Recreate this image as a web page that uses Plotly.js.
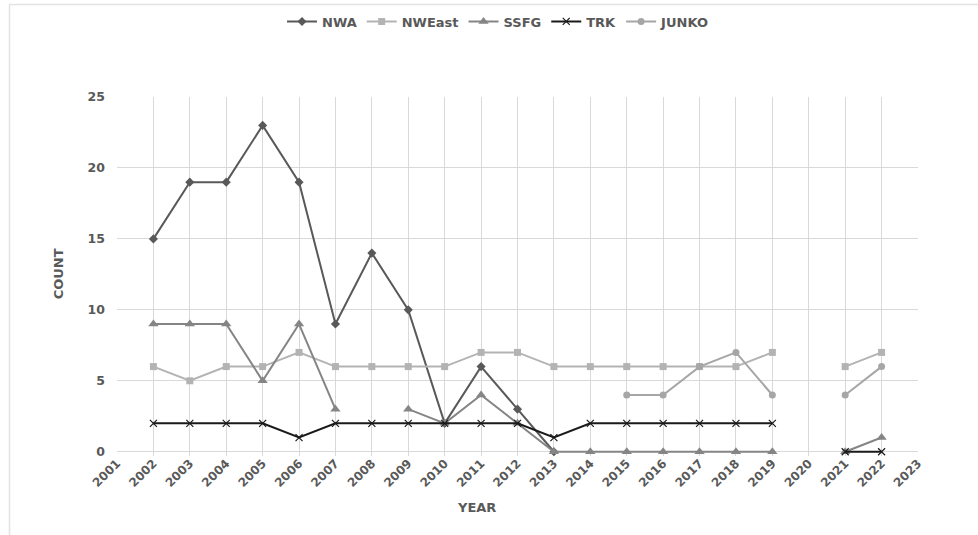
<!DOCTYPE html>
<html>
<head>
<meta charset="utf-8">
<script src="https://cdn.plot.ly/plotly-3.0.1.min.js"></script>
<style>html,body{margin:0;padding:0;background:#fff;}#chart{width:978px;height:535px;}</style>
</head>
<body>
<div id="chart"></div>
<script>
const years = [2002,2003,2004,2005,2006,2007,2008,2009,2010,2011,2012,2013,2014,2015,2016,2017,2018,2019,2020,2021,2022];
const tickYears = [2001,2002,2003,2004,2005,2006,2007,2008,2009,2010,2011,2012,2013,2014,2015,2016,2017,2018,2019,2020,2021,2022,2023];
const nwa    = [15,19,19,23,19,9,14,10,2,6,3,0,null,null,null,null,null,null,null,null,null];
const nweast = [6,5,6,6,7,6,6,6,6,7,7,6,6,6,6,6,6,7,null,6,7];
const ssfg   = [9,9,9,5,9,3,null,3,2,4,2,0,0,0,0,0,0,0,null,0,1];
const trk    = [2,2,2,2,1,2,2,2,2,2,2,1,2,2,2,2,2,2,null,0,0];
const junko  = [null,null,null,null,null,null,null,null,null,null,null,null,null,4,4,6,7,4,null,4,6];

const FONT = 'DejaVu Sans, Liberation Sans, Arial, sans-serif';

const mk = (name, y, color, symbol, size) => ({
  x: years, y: y, name: name, type: 'scatter', mode: 'lines+markers',
  connectgaps: false, cliponaxis: false,
  line: {color: color, width: 2},
  marker: {color: color, symbol: symbol, size: size, line: {color: color, width: symbol === 'x-thin' ? 1.2 : 0}}
});

const data = [
  mk('NWA', nwa, '#595959', 'diamond', 7),
  mk('NWEast', nweast, '#b3b3b3', 'square', 7),
  mk('SSFG', ssfg, '#858585', 'triangle-up', 9),
  mk('TRK', trk, '#1a1a1a', 'x-thin', 7),
  mk('JUNKO', junko, '#a6a6a6', 'circle', 7)
];

const tickFont = {family: FONT, size: 12, color: '#595959', weight: 'bold'};
const PAD = 0.3;              // value units below 0 so the zero line is not clipped
const UNIT = 355 / 25;        // px per count unit
const plotH = (25 + PAD) * UNIT;
const bottomM = 535 - 97 - plotH;
const fy = v => (v + PAD) / (25 + PAD);   // value -> paper fraction
const fpx = py => (535 - bottomM - py) / plotH; // pixel -> paper fraction

const layout = {
  width: 978, height: 535,
  margin: {l: 117, r: 60, t: 97, b: bottomM},
  paper_bgcolor: '#fff', plot_bgcolor: '#fff',
  showlegend: true,
  legend: {orientation: 'h', x: (498-117)/801, xanchor: 'center', y: 1 - 21.5/535, yref: 'container', yanchor: 'middle',
           bgcolor: 'rgba(0,0,0,0)',
           font: {family: FONT, size: 13, color: '#595959', weight: 'bold'},
           itemwidth: 30, tracegroupgap: 0},
  xaxis: {range: [2001, 2023], tickmode: 'array', tickvals: tickYears, ticktext: tickYears.map(String),
          tickangle: -45, showgrid: true, gridcolor: '#d9d9d9', gridwidth: 1, zeroline: false,
          showline: false, ticks: '', tickfont: tickFont, ticklabelstandoff: -3},
  yaxis: {range: [-PAD, 25], tickvals: [0,5,10,15,20,25], showgrid: true, gridcolor: '#d9d9d9', gridwidth: 1,
          zeroline: true, zerolinecolor: '#d9d9d9', zerolinewidth: 1,
          showline: false, ticks: '', tickfont: {family: FONT, size: 12.5, color: '#595959', weight: 'bold'},
          ticklabelstandoff: 11},
  annotations: [
    {text: 'YEAR', xref: 'paper', yref: 'paper', x: (476-117)/801, y: fpx(508), xanchor: 'center', yanchor: 'middle',
     showarrow: false, font: {family: FONT, size: 13, color: '#595959', weight: 'bold'}},
    {text: 'COUNT', xref: 'paper', yref: 'paper', x: (58-117)/801, y: fpx(274.5), xanchor: 'center', yanchor: 'middle',
     textangle: -90, showarrow: false, font: {family: FONT, size: 13, color: '#595959', weight: 'bold'}}
  ],
  shapes: [
    {type: 'rect', xref: 'paper', yref: 'paper', x0: -0.002, x1: 1.002, y0: -0.001, y1: fy(0) - 0.0015,
     fillcolor: '#ffffff', line: {width: 0}, layer: 'between'},
    {type: 'line', xref: 'paper', yref: 'paper', x0: (9-117)/801, x1: (990-117)/801, y0: fpx(4.5), y1: fpx(4.5),
     line: {color: '#e3e3e3', width: 1.5}},
    {type: 'line', xref: 'paper', yref: 'paper', x0: (9.5-117)/801, x1: (9.5-117)/801, y0: fpx(4.5), y1: fpx(545),
     line: {color: '#e3e3e3', width: 1.5}}
  ]
};

Plotly.newPlot('chart', data, layout, {displayModeBar: false, staticPlot: true});
</script>
</body>
</html>
